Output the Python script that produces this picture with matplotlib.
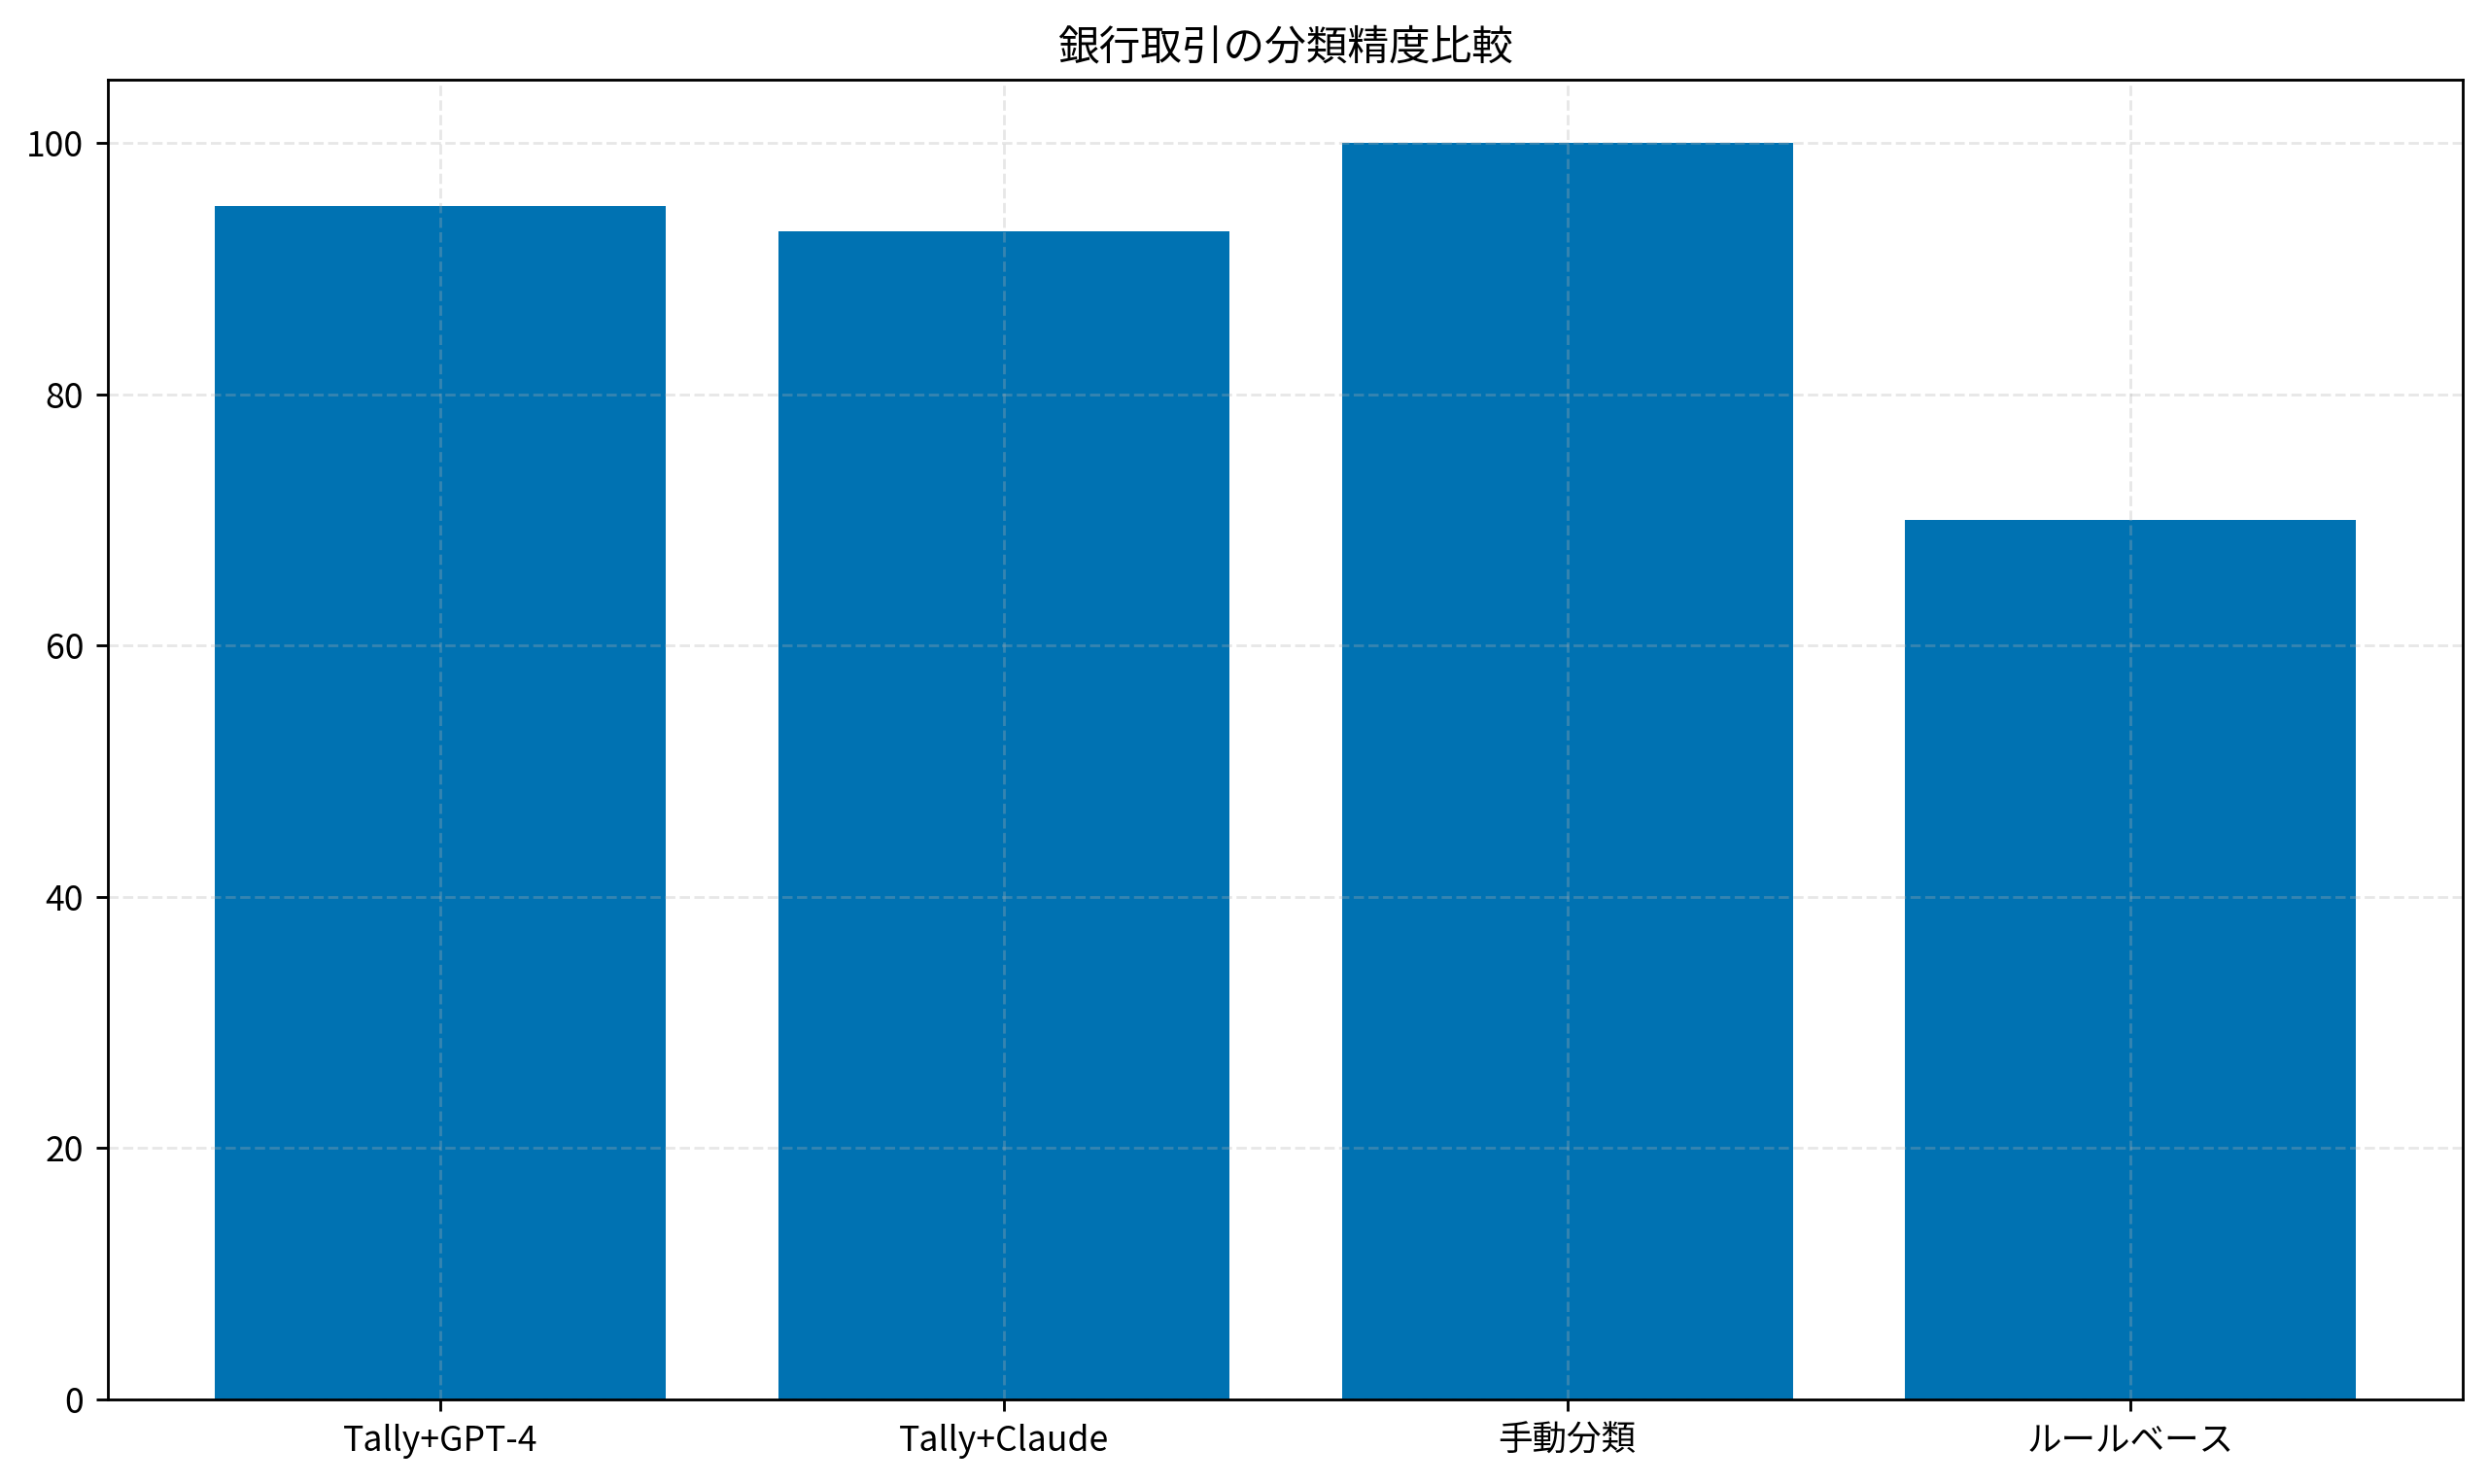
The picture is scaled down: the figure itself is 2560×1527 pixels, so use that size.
import matplotlib
matplotlib.use('Agg')
import matplotlib.pyplot as plt

plt.rcParams['font.family'] = ['Noto Sans CJK JP', 'DejaVu Sans']

methods = ['Tally+GPT-4', 'Tally+Claude', '手動分類', 'ルールベース']
accuracy = [95, 93, 100, 70]

fig, ax = plt.subplots(figsize=(10, 5.965), dpi=256)
ax.bar(methods, accuracy, color='#0072B2', width=0.8)
ax.set_title('銀行取引の分類精度比較', fontsize=12)
ax.grid(True, linestyle='--', alpha=0.3)
ax.tick_params(labelsize=10)
fig.subplots_adjust(left=0.0434, right=0.990, top=0.946, bottom=0.057)
fig.savefig('out.png')
